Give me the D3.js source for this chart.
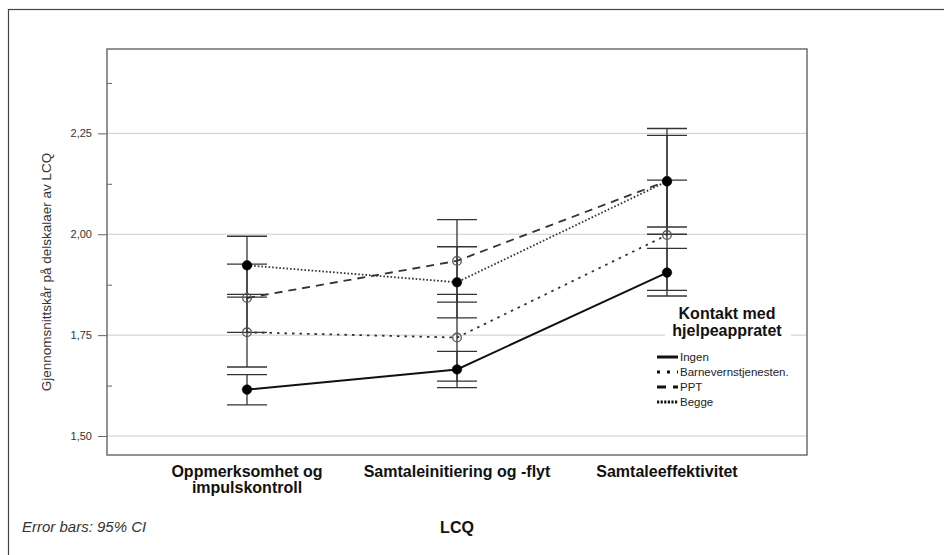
<!DOCTYPE html>
<html>
<head>
<meta charset="utf-8">
<script src="https://cdn.jsdelivr.net/npm/d3@7"></script>
<style>
  body { margin: 0; background: #fff; }
  svg { font-family: "Liberation Sans", Arial, sans-serif; }
</style>
</head>
<body>
<div id="chart"></div>
<script>
// Data
const categories = ["Oppmerksomhet og impulskontroll", "Samtaleinitiering og -flyt", "Samtaleeffektivitet"];
const categoryLabels = [["Oppmerksomhet og", "impulskontroll"], ["Samtaleinitiering og -flyt"], ["Samtaleeffektivitet"]];
const groups = ["Ingen", "Barnevernstjenesten.", "PPT", "Begge"];

const ingenMean = [1.615, 1.665, 1.905];
const ingenLow = [1.577, 1.620, 1.847];
const ingenHigh = [1.652, 1.710, 1.965];

const barnevernMean = [1.757, 1.744, 1.998];
const barnevernLow = [1.671, 1.636, 1.861];
const barnevernHigh = [1.844, 1.851, 2.134];

const pptMean = [1.842, 1.934, 2.132];
const pptLow = [1.757, 1.832, 2.018];
const pptHigh = [1.926, 2.036, 2.245];

const beggeMean = [1.923, 1.881, 2.131];
const beggeLow = [1.851, 1.793, 2.000];
const beggeHigh = [1.995, 1.969, 2.262];

const yTicks = [1.50, 1.75, 2.00, 2.25];
const yMinorTicks = [1.625, 1.875, 2.125, 2.375];

// styles per group
const styles = [
    { dash: null, legendDash: null, filled: true },
    { dash: "2.5,5", legendDash: "3,7", filled: false },
    { dash: "8,6", legendDash: "9,7", filled: false },
    { dash: "1.6,2", legendDash: "2.2,1.4", filled: true }
];

const series = [
    { name: groups[0], mean: ingenMean, low: ingenLow, high: ingenHigh },
    { name: groups[1], mean: barnevernMean, low: barnevernLow, high: barnevernHigh },
    { name: groups[2], mean: pptMean, low: pptLow, high: pptHigh },
    { name: groups[3], mean: beggeMean, low: beggeLow, high: beggeHigh }
];

const W = 944, H = 555;
const plot = { left: 107, right: 807, top: 49, bottom: 455 };

const svg = d3.select("#chart").append("svg")
    .attr("width", W)
    .attr("height", H);

// outer border (runs off the right/bottom edge)
svg.append("rect")
    .attr("x", 8.5).attr("y", 9.5)
    .attr("width", W).attr("height", H)
    .attr("fill", "none")
    .attr("stroke", "#444")
    .attr("stroke-width", 1.2);

const x = d3.scalePoint()
    .domain(categories)
    .range([plot.left, plot.right])
    .padding(2 / 3);

const y = d3.scaleLinear()
    .domain([1.453, 2.459])
    .range([plot.bottom, plot.top]);

const fmt = d3.formatLocale({ decimal: ",", thousands: ".", grouping: [3], currency: ["", " kr"] }).format(".2f");

// gridlines
svg.append("g")
    .selectAll("line")
    .data(yTicks)
    .enter()
    .append("line")
    .attr("x1", plot.left).attr("x2", plot.right)
    .attr("y1", d => y(d)).attr("y2", d => y(d))
    .attr("stroke", "#cdcdcd")
    .attr("stroke-width", 1);

// y axis
const yAxis = svg.append("g")
    .attr("transform", `translate(${plot.left},0)`)
    .call(d3.axisLeft(y).tickValues(yTicks).tickSize(9).tickPadding(6).tickFormat(fmt));
yAxis.select(".domain").remove();
yAxis.selectAll("line").attr("stroke", "#666");
yAxis.selectAll("text")
    .style("font-size", "11px")
    .style("font-family", "Liberation Sans, Arial, sans-serif")
    .attr("fill", "#333");

const yMinor = svg.append("g")
    .attr("transform", `translate(${plot.left},0)`)
    .call(d3.axisRight(y).tickValues(yMinorTicks).tickSize(5).tickFormat(""));
yMinor.select(".domain").remove();
yMinor.selectAll("line").attr("stroke", "#666");

// frame
svg.append("rect")
    .attr("x", plot.left).attr("y", plot.top)
    .attr("width", plot.right - plot.left)
    .attr("height", plot.bottom - plot.top)
    .attr("fill", "none")
    .attr("stroke", "#6e6e6e")
    .attr("stroke-width", 1.5);

// y label
svg.append("text")
    .attr("transform", `translate(51,272) rotate(-90)`)
    .attr("text-anchor", "middle")
    .style("font-size", "13.5px")
    .attr("fill", "#333")
    .text("Gjennomsnittskår på delskalaer av LCQ");

// x category labels
categoryLabels.forEach((lines, i) => {
    const t = svg.append("text")
        .attr("text-anchor", "middle")
        .attr("x", x(categories[i]))
        .attr("y", 477)
        .style("font-size", "16px")
        .style("font-weight", "bold")
        .attr("fill", "#111");
    lines.forEach((l, j) => {
        t.append("tspan")
            .attr("x", x(categories[i]))
            .attr("dy", j === 0 ? 0 : 16)
            .text(l);
    });
});

svg.append("text")
    .attr("x", (plot.left + plot.right) / 2)
    .attr("y", 533)
    .attr("text-anchor", "middle")
    .style("font-size", "16px")
    .style("font-weight", "bold")
    .attr("fill", "#111")
    .text("LCQ");

svg.append("text")
    .attr("x", 22)
    .attr("y", 532)
    .style("font-size", "15px")
    .style("font-style", "italic")
    .attr("fill", "#333")
    .text("Error bars: 95% CI");

// error bars
const capHalf = 20;
const eb = svg.append("g").attr("class", "error-bars");
series.forEach(s => {
    categories.forEach((c, i) => {
        const cx = x(c);
        eb.append("line")
            .attr("x1", cx).attr("x2", cx)
            .attr("y1", y(s.low[i])).attr("y2", y(s.high[i]))
            .attr("stroke", "#333").attr("stroke-width", 1.3);
        [s.low[i], s.high[i]].forEach(v => {
            eb.append("line")
                .attr("x1", cx - capHalf).attr("x2", cx + capHalf)
                .attr("y1", y(v)).attr("y2", y(v))
                .attr("stroke", "#333").attr("stroke-width", 1.3);
        });
    });
});

// lines
const line = d3.line()
    .x((d, i) => x(categories[i]))
    .y(d => y(d));

series.forEach((s, k) => {
    svg.append("path")
        .datum(s.mean)
        .attr("d", line)
        .attr("fill", "none")
        .attr("stroke", k === 0 ? "#111" : "#333")
        .attr("stroke-width", k === 0 ? 2 : 1.8)
        .attr("stroke-dasharray", styles[k].dash);
});

// markers
series.forEach((s, k) => {
    svg.selectAll(null)
        .data(s.mean)
        .enter()
        .append("circle")
        .attr("cx", (d, i) => x(categories[i]))
        .attr("cy", d => y(d))
        .attr("r", styles[k].filled ? 4.8 : 4.3)
        .attr("fill", styles[k].filled ? "#000" : "none")
        .attr("stroke", styles[k].filled ? "#000" : "#555")
        .attr("stroke-width", styles[k].filled ? 0.5 : 1.3);
});

// legend
const legend = svg.append("g").attr("class", "legend");
legend.append("rect")
    .attr("x", 665).attr("y", 302)
    .attr("width", 126).attr("height", 108)
    .attr("fill", "#fff");

const legendTitle = legend.append("text")
    .attr("text-anchor", "middle")
    .attr("x", 727)
    .attr("y", 319)
    .style("font-size", "16px")
    .style("font-weight", "bold")
    .attr("fill", "#111");
legendTitle.append("tspan").attr("x", 727).attr("dy", 0).text("Kontakt med");
legendTitle.append("tspan").attr("x", 727).attr("dy", 17).text("hjelpeappratet");

series.forEach((s, k) => {
    const ly = 357 + k * 15;
    legend.append("line")
        .attr("x1", 657).attr("x2", 678)
        .attr("y1", ly).attr("y2", ly)
        .attr("stroke", "#111")
        .attr("stroke-width", 3)
        .attr("stroke-dasharray", styles[k].legendDash);
    legend.append("text")
        .attr("x", 680)
        .attr("y", ly + 4)
        .style("font-size", "11.5px")
        .attr("fill", "#222")
        .text(s.name);
});
</script>
</body>
</html>
